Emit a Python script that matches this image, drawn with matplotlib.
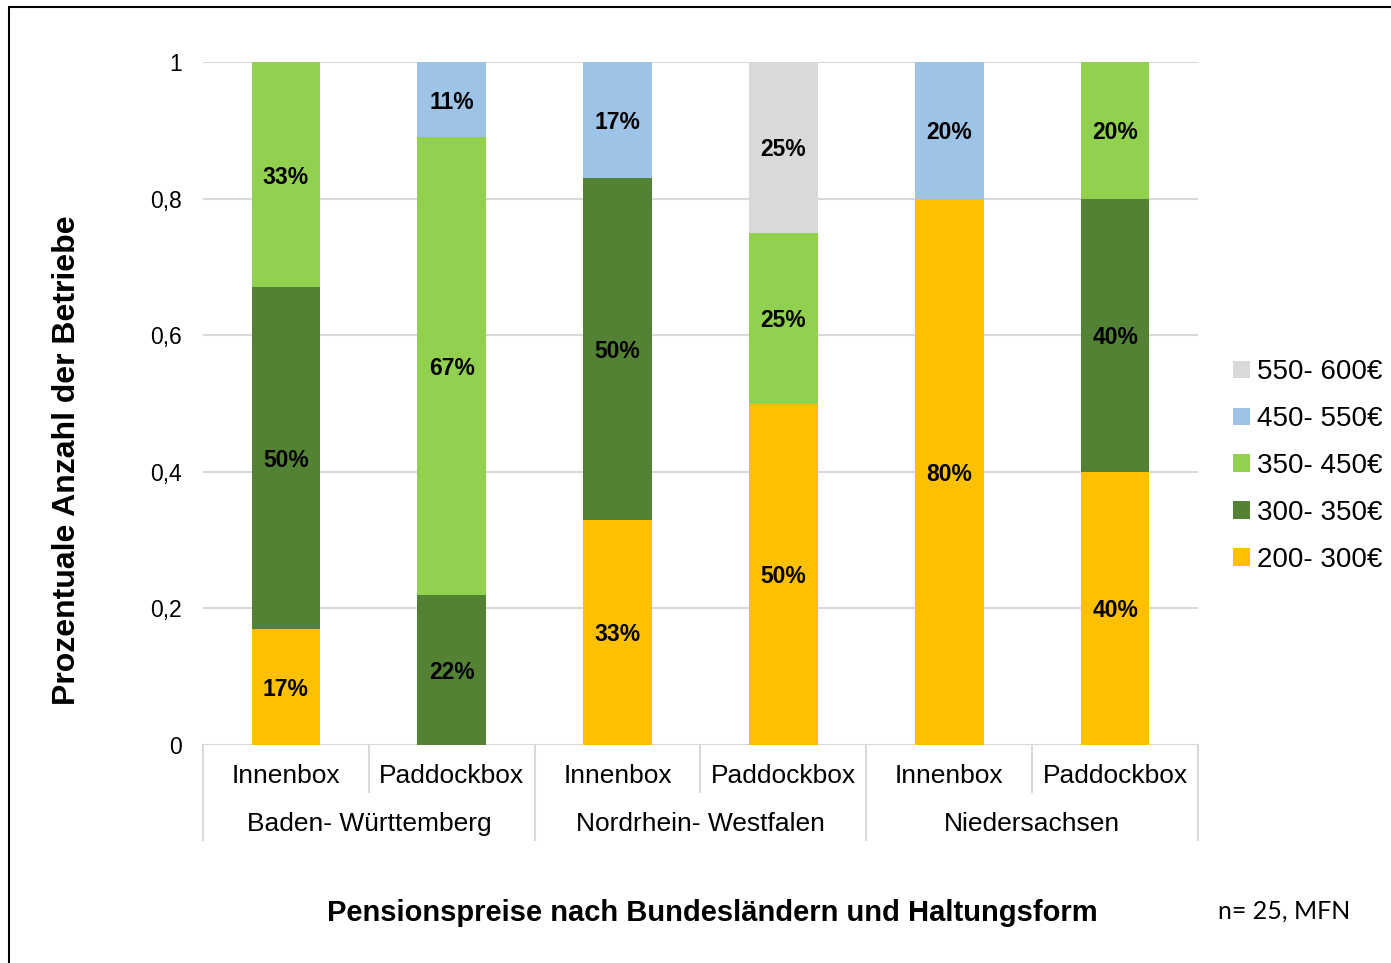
import matplotlib.pyplot as plt
import numpy as np
from matplotlib.patches import Rectangle
from matplotlib import transforms

plt.rcParams['font.family'] = ['Liberation Sans', 'DejaVu Sans']

# data
bars = ['Innenbox', 'Paddockbox', 'Innenbox', 'Paddockbox', 'Innenbox', 'Paddockbox']
groups = ['Baden- Württemberg', 'Nordrhein- Westfalen', 'Niedersachsen']
series = ['200- 300€', '300- 350€', '350- 450€', '450- 550€', '550- 600€']
colors = ['#FFC000', '#548235', '#92D050', '#9DC3E6', '#D9D9D9']

p200_300 = [0.17, 0.0, 0.33, 0.50, 0.80, 0.40]
p300_350 = [0.50, 0.22, 0.50, 0.0, 0.0, 0.40]
p350_450 = [0.33, 0.67, 0.0, 0.25, 0.0, 0.20]
p450_550 = [0.0, 0.11, 0.17, 0.0, 0.20, 0.0]
p550_600 = [0.0, 0.0, 0.0, 0.25, 0.0, 0.0]
values = [p200_300, p300_350, p350_450, p450_550, p550_600]

fig = plt.figure(figsize=(13.91, 9.63), dpi=100)
ax = fig.add_axes([203/1391, 1-745/963, 995/1391, 683/963])

x = np.arange(len(bars))
bottom = np.zeros(len(bars))
handles = []
for vals, col, name in zip(values, colors, series):
    vals = np.array(vals)
    h = ax.bar(x, vals, 0.415, bottom=bottom, color=col, label=name, zorder=2)
    handles.append(h)
    for xi, v, b in zip(x, vals, bottom):
        if v > 0:
            ax.text(xi, b + v/2, f'{v*100:.0f}%', ha='center', va='center_baseline',
                    fontsize=16.5, fontweight='bold', zorder=3)
    bottom += vals

ax.set_xlim(-0.5, 5.5)
ax.set_ylim(0, 1)
ax.set_yticks([0, 0.2, 0.4, 0.6, 0.8, 1])
ax.set_yticklabels(['0', '0,2', '0,4', '0,6', '0,8', '1'], fontsize=16.5)
ax.tick_params(axis='y', length=0, pad=15)
ax.set_xticks([])
ax.grid(axis='y', color='#D9D9D9', linewidth=1.5, zorder=0)
for s in ax.spines.values():
    s.set_visible(False)
ax.set_axisbelow(True)

# category axis
trans = transforms.blended_transform_factory(ax.transData, ax.transAxes)
for xs in [0.5, 2.5, 4.5]:
    ax.plot([xs, xs], [0, -0.069], transform=trans, color='#D9D9D9', lw=1.5, clip_on=False)
for xs in [-0.5, 1.5, 3.5, 5.5]:
    ax.plot([xs, xs], [0, -0.139], transform=trans, color='#D9D9D9', lw=1.5, clip_on=False)
for xi, lab in zip(x, bars):
    ax.text(xi, -0.045, lab, transform=trans, ha='center', va='center', fontsize=19)
for gi, g in enumerate(groups):
    ax.text(2*gi + 0.5, -0.116, g, transform=trans, ha='center', va='center', fontsize=19)

ax.set_ylabel('Prozentuale Anzahl der Betriebe', fontsize=23, fontweight='bold')
ax.yaxis.set_label_coords((82-203)/995, (745-460)/683)

fig.text(712/1391, 1-913/963, 'Pensionspreise nach Bundesländern und Haltungsform',
         ha='center', va='center', fontsize=21, fontweight='bold')
fig.text(1284/1391, 1-911/963, 'n= 25, MFN', ha='center', va='center',
         fontsize=18, family=['Lato', 'DejaVu Sans'])

ax.legend(handles[::-1], series[::-1], loc='center left',
          bbox_to_anchor=(1233/1391, 1-466/963), bbox_transform=fig.transFigure,
          frameon=False, fontsize=20, handlelength=0.6, handleheight=0.6,
          handletextpad=0.25, labelspacing=0.75, borderpad=0, borderaxespad=0)

fig.add_artist(Rectangle((9/1391, -0.05), 1.1, 1.05 - 7/963, transform=fig.transFigure,
                         fill=False, edgecolor='black', lw=1.5, clip_on=False))

fig.savefig('out.png', dpi=100)
